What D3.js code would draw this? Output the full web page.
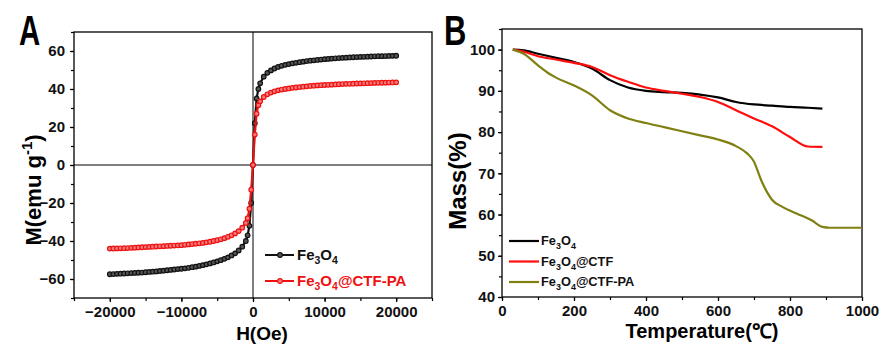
<!DOCTYPE html>
<html>
<head>
<meta charset="utf-8">
<script src="https://cdn.jsdelivr.net/npm/d3@7"></script>
<style>
  body { margin: 0; background: #fff; }
  svg { display: block; font-family: "Liberation Sans", Arial, sans-serif; font-weight: bold; }
</style>
</head>
<body>
<svg id="chart" width="881" height="344"></svg>
<script>
// ---- panel A: magnetization loops ----
const hField = [-20000,-19500,-19000,-18500,-18000,-17500,-17000,-16500,-16000,-15500,-15000,-14500,-14000,-13500,-13000,-12500,-12000,-11500,-11000,-10500,-10000,-9500,-9000,-8500,-8000,-7500,-7000,-6500,-6000,-5500,-5000,-4500,-4000,-3500,-3000,-2500,-2000,-1500,-1000,-750,-500,-250,0,250,500,750,1000,1500,2000,2500,3000,3500,4000,4500,5000,5500,6000,6500,7000,7500,8000,8500,9000,9500,10000,10500,11000,11500,12000,12500,13000,13500,14000,14500,15000,15500,16000,16500,17000,17500,18000,18500,19000,19500,20000];
const mFe3O4 = [-57.5,-57.4,-57.3,-57.2,-57.1,-57.0,-56.9,-56.8,-56.7,-56.6,-56.45,-56.3,-56.15,-56.0,-55.8,-55.6,-55.4,-55.2,-55.0,-54.8,-54.6,-54.4,-54.1,-53.8,-53.5,-53.1,-52.7,-52.3,-51.8,-51.3,-50.7,-50.1,-49.4,-48.6,-47.6,-46.5,-45,-43,-40,-37,-32,-20,
  0,22,35,40,43,46.5,48.5,49.8,50.8,51.6,52.2,52.7,53.1,53.5,53.8,54.1,54.4,54.7,54.9,55.1,55.3,55.5,55.7,55.85,56.0,56.15,56.3,56.4,56.5,56.6,56.7,56.8,56.9,56.95,57.0,57.1,57.2,57.25,57.3,57.35,57.4,57.45,57.5];
const mFe3O4CtfPa = [-44.0,-43.95,-43.9,-43.85,-43.8,-43.7,-43.6,-43.5,-43.4,-43.3,-43.2,-43.1,-43.0,-42.9,-42.8,-42.7,-42.6,-42.5,-42.4,-42.3,-42.2,-42.0,-41.8,-41.6,-41.4,-41.2,-41.0,-40.7,-40.4,-40.0,-39.6,-39.1,-38.5,-37.8,-37.0,-36.0,-34.8,-33.0,-30.5,-28,-23,-13,
  0,16,27,31.5,33.5,35.8,37.2,38.1,38.8,39.3,39.7,40.0,40.3,40.6,40.8,41.0,41.2,41.4,41.6,41.75,41.9,42.0,42.1,42.2,42.3,42.4,42.5,42.6,42.7,42.75,42.8,42.9,42.95,43.0,43.05,43.1,43.2,43.25,43.3,43.35,43.4,43.45,43.5];
const hTicks = [-20000, -10000, 0, 10000, 20000];
const mTicks = [-60, -40, -20, 0, 20, 40, 60];

// ---- panel B: TGA ----
const tempFe3O4 = [30,60,100,150,200,250,300,350,400,450,500,550,600,650,700,750,800,850,890];
const massFe3O4 = [100,99.8,99.0,98.0,97.0,95.4,92.6,90.8,90.0,89.7,89.5,89.1,88.4,87.3,86.7,86.4,86.1,85.9,85.7];
const massFe3O4Ctf = [100,99.5,98.4,97.6,96.8,95.8,93.8,92.2,90.8,90.0,89.3,88.5,87.3,85.3,83.3,81.4,78.8,76.5,76.4];
const tempFe3O4CtfPa = [30,60,100,130,150,200,250,300,350,400,450,500,550,600,650,680,700,720,750,780,820,860,890,910,950,1000];
const massFe3O4CtfPa = [100,99.0,96.2,94.2,93.2,91.3,88.9,85.3,83.3,82.2,81.2,80.2,79.2,78.2,76.6,74.9,72.8,68.3,63.6,61.8,60.2,58.6,57.0,56.8,56.8,56.8];
const tempTicks = [0, 200, 400, 600, 800, 1000];
const massTicks = [40, 50, 60, 70, 80, 90, 100];

const svg = d3.select("#chart");

// writes "Fe3O4..." with subscript digits
function chem(text, parts, size) {
  parts.forEach(p => {
    text.append("tspan")
      .attr("font-size", p.sub ? size * 0.7 : size)
      .attr("dy", p.sub ? 4 : (p.after ? -4 : 0))
      .text(p.t);
  });
}
const fe3o4 = [{t: "Fe"}, {t: "3", sub: true}, {t: "O", after: true}, {t: "4", sub: true}];

function frame(g, x0, x1, y0, y1) {
  g.append("rect").attr("x", x0).attr("y", y0).attr("width", x1 - x0).attr("height", y1 - y0)
    .attr("fill", "none").attr("stroke", "#000").attr("stroke-width", 1.3);
}

// ================= A =================
{
  const x = d3.scaleLinear().domain([-25000, 25000]).range([74, 432]);
  const y = d3.scaleLinear().domain([-70, 70]).range([298, 32]);
  const g = svg.append("g");

  g.append("g").attr("transform", "translate(0,298)")
    .call(d3.axisBottom(x).tickValues(d3.range(-25000, 25001, 5000)).tickSize(3).tickFormat(""));
  g.append("g").attr("transform", "translate(0,298)")
    .call(d3.axisBottom(x).tickValues(hTicks).tickSize(4).tickPadding(4).tickFormat(d3.format("d")));
  g.append("g").attr("transform", "translate(74,0)")
    .call(d3.axisLeft(y).tickValues(d3.range(-70, 71, 10)).tickSize(3).tickFormat(""));
  g.append("g").attr("transform", "translate(74,0)")
    .call(d3.axisLeft(y).tickValues(mTicks).tickSize(4).tickPadding(5).tickFormat(d3.format("d")));
  g.selectAll(".domain").remove();
  g.selectAll(".tick text").attr("font-size", 15).attr("font-family", "Liberation Sans, Arial").attr("font-weight", "bold").attr("fill", "#111");
  g.selectAll(".tick line").attr("stroke", "#000").attr("stroke-width", 1.2);
  frame(g, 74, 432, 32, 298);

  g.append("line").attr("x1", x(0)).attr("x2", x(0)).attr("y1", 32).attr("y2", 298).attr("stroke", "#000").attr("stroke-width", 1);
  g.append("line").attr("x1", 74).attr("x2", 432).attr("y1", y(0)).attr("y2", y(0)).attr("stroke", "#000").attr("stroke-width", 1);

  const series = [
    {vals: mFe3O4, color: "#111", fill: "#555"},
    {vals: mFe3O4CtfPa, color: "#ee1111", fill: "#f47a7a"}
  ];
  const line = d3.line().x((d, i) => x(hField[i])).y(d => y(d));
  series.forEach(s => {
    g.append("path").datum(s.vals).attr("d", line).attr("fill", "none").attr("stroke", s.color).attr("stroke-width", 2.2);
    g.append("g").selectAll("circle").data(s.vals).join("circle")
      .attr("cx", (d, i) => x(hField[i])).attr("cy", d => y(d)).attr("r", 2.3)
      .attr("fill", s.fill).attr("stroke", s.color).attr("stroke-width", 1.2);
  });

  // legend
  const leg = [{name: fe3o4, color: "#111", fill: "#555", y: 255},
               {name: fe3o4.concat([{t: "@CTF-PA", after: true}]), color: "#ee1111", fill: "#f47a7a", y: 281}];
  leg.forEach(l => {
    g.append("line").attr("x1", 265).attr("x2", 294).attr("y1", l.y).attr("y2", l.y).attr("stroke", l.color).attr("stroke-width", 2);
    g.append("circle").attr("cx", 280).attr("cy", l.y).attr("r", 2.4).attr("fill", l.fill).attr("stroke", l.color).attr("stroke-width", 1.1);
    const t = g.append("text").attr("x", 297).attr("y", l.y + 5).attr("fill", l.color);
    chem(t, l.name, 15);
  });

  const yl = g.append("text").attr("transform", "translate(41,190) rotate(-90)").attr("text-anchor", "middle").attr("font-size", 22);
  yl.append("tspan").text("M(emu g");
  yl.append("tspan").attr("dy", -9).attr("font-size", 15).text("-1");
  yl.append("tspan").attr("dy", 9).text(")");
  g.append("text").attr("x", 262).attr("y", 340).attr("text-anchor", "middle").attr("font-size", 19).text("H(Oe)");
  g.append("text").attr("transform", "translate(19,45) scale(0.7,1)").attr("font-size", 42).text("A");
}

// ================= B =================
{
  const x = d3.scaleLinear().domain([0, 1000]).range([502, 862]);
  const y = d3.scaleLinear().domain([40, 105]).range([297, 29]);
  const g = svg.append("g");

  g.append("g").attr("transform", "translate(0,297)")
    .call(d3.axisBottom(x).tickValues(d3.range(0, 1001, 100)).tickSize(3).tickFormat(""));
  g.append("g").attr("transform", "translate(0,297)")
    .call(d3.axisBottom(x).tickValues(tempTicks).tickSize(4).tickPadding(4).tickFormat(d3.format("d")));
  g.append("g").attr("transform", "translate(502,0)")
    .call(d3.axisLeft(y).tickValues(d3.range(40, 106, 5)).tickSize(3).tickFormat(""));
  g.append("g").attr("transform", "translate(502,0)")
    .call(d3.axisLeft(y).tickValues(massTicks).tickSize(4).tickPadding(3).tickFormat(d3.format("d")));
  g.selectAll(".domain").remove();
  g.selectAll(".tick text").attr("font-size", 15).attr("font-family", "Liberation Sans, Arial").attr("font-weight", "bold").attr("fill", "#111");
  g.selectAll(".tick line").attr("stroke", "#000").attr("stroke-width", 1.2);
  frame(g, 502, 862, 29, 297);

  const curves = [
    {t: tempFe3O4, m: massFe3O4, color: "#000"},
    {t: tempFe3O4, m: massFe3O4Ctf, color: "#ff0d0d"},
    {t: tempFe3O4CtfPa, m: massFe3O4CtfPa, color: "#808012"}
  ];
  curves.forEach(c => {
    const line = d3.line().curve(d3.curveMonotoneX).x((d, i) => x(c.t[i])).y(d => y(d));
    g.append("path").datum(c.m).attr("d", line).attr("fill", "none").attr("stroke", c.color).attr("stroke-width", 2.2);
  });

  const leg = [{name: fe3o4, color: "#000"},
               {name: fe3o4.concat([{t: "@CTF", after: true}]), color: "#ff0d0d"},
               {name: fe3o4.concat([{t: "@CTF-PA", after: true}]), color: "#808012"}];
  leg.forEach((l, i) => {
    const ly = 241 + i * 20.5;
    g.append("line").attr("x1", 509).attr("x2", 539).attr("y1", ly).attr("y2", ly).attr("stroke", l.color).attr("stroke-width", 2.2);
    const t = g.append("text").attr("x", 541).attr("y", ly + 4).attr("fill", "#111");
    chem(t, l.name, 12.8);
  });

  g.append("text").attr("transform", "translate(466,181) rotate(-90)").attr("text-anchor", "middle").attr("font-size", 24).text("Mass(%)");
  g.append("text").attr("x", 702).attr("y", 338).attr("text-anchor", "middle").attr("font-size", 20).text("Temperature(℃)");
  g.append("text").attr("transform", "translate(444,45) scale(0.72,1)").attr("font-size", 43).text("B");
}
</script>
</body>
</html>
